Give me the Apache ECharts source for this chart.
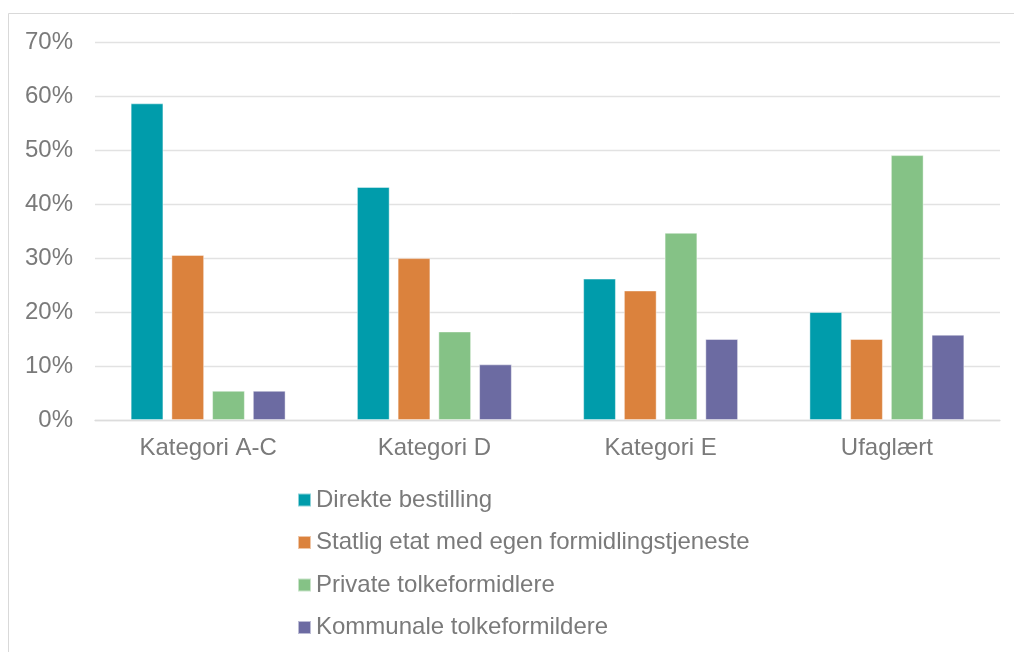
<!DOCTYPE html>
<html>
<head>
<meta charset="utf-8">
<script src="https://cdn.jsdelivr.net/npm/echarts@6/dist/echarts.min.js"></script>
<style>
  html, body { margin: 0; padding: 0; background: #ffffff; }
  #chart { width: 1014px; height: 652px; }
</style>
</head>
<body>
<div id="chart"></div>
<script>
// Kategorier langs x-aksen
const categories = ['Kategori A-C', 'Kategori D', 'Kategori E', 'Ufaglært'];

// Seriene (andel i prosent)
const seriesNames = [
  'Direkte bestilling',
  'Statlig etat med egen formidlingstjeneste',
  'Private tolkeformidlere',
  'Kommunale tolkeformildere'
];
const direkteBestilling = [58.7, 43.2, 26.2, 20.0];
const statligEtat = [30.6, 30.0, 24.0, 15.0];
const privateFormidlere = [5.4, 16.4, 34.7, 49.1];
const kommunaleFormidlere = [5.4, 10.3, 15.0, 15.8];

// Verdiakse
const yMin = 0;
const yMax = 70;
const yStep = 10;

const colors = ['#009CAB', '#DB823D', '#85C286', '#6C6BA2'];
const textGray = '#7a7a7a';
const fontFamily = '"Liberation Sans", Arial, sans-serif';

const seriesValues = [direkteBestilling, statligEtat, privateFormidlere, kommunaleFormidlere];

const chart = echarts.init(document.getElementById('chart'));

chart.setOption({
  animation: false,
  backgroundColor: '#ffffff',
  color: colors,
  textStyle: { fontFamily: fontFamily },
  graphic: [{
    type: 'rect',
    silent: true,
    shape: { x: 8.5, y: 13.5, width: 1100, height: 800 },
    style: { fill: 'none', stroke: '#d9d9d9', lineWidth: 1 }
  }],
  grid: { left: 95, right: 14, top: 42.5, bottom: 232, containLabel: false },
  legend: {
    orient: 'vertical',
    left: 292,
    top: 483,
    itemWidth: 13,
    itemHeight: 13,
    itemGap: 18.5,
    icon: 'rect',
    textStyle: { color: textGray, fontSize: 24, lineHeight: 24, fontFamily: fontFamily },
    data: seriesNames
  },
  xAxis: {
    type: 'category',
    data: categories,
    axisLine: { show: true, lineStyle: { color: '#dcdcdc', width: 1.3 } },
    axisTick: { show: false },
    axisLabel: { color: textGray, fontSize: 24, margin: 16, fontFamily: fontFamily }
  },
  yAxis: {
    type: 'value',
    min: yMin,
    max: yMax,
    interval: yStep,
    axisLine: { show: false },
    axisTick: { show: false },
    splitLine: { lineStyle: { color: '#e2e2e2', width: 1.3 } },
    axisLabel: {
      color: textGray,
      fontSize: 24,
      margin: 22,
      fontFamily: fontFamily,
      formatter: '{value}%'
    }
  },
  series: seriesNames.map((name, i) => ({
    name: name,
    type: 'bar',
    data: seriesValues[i],
    barWidth: '14.4%',
    barGap: '25%',
    itemStyle: { color: colors[i], borderColor: 'rgba(255,255,255,0.55)', borderWidth: 0.8 }
  }))
});
</script>
</body>
</html>
